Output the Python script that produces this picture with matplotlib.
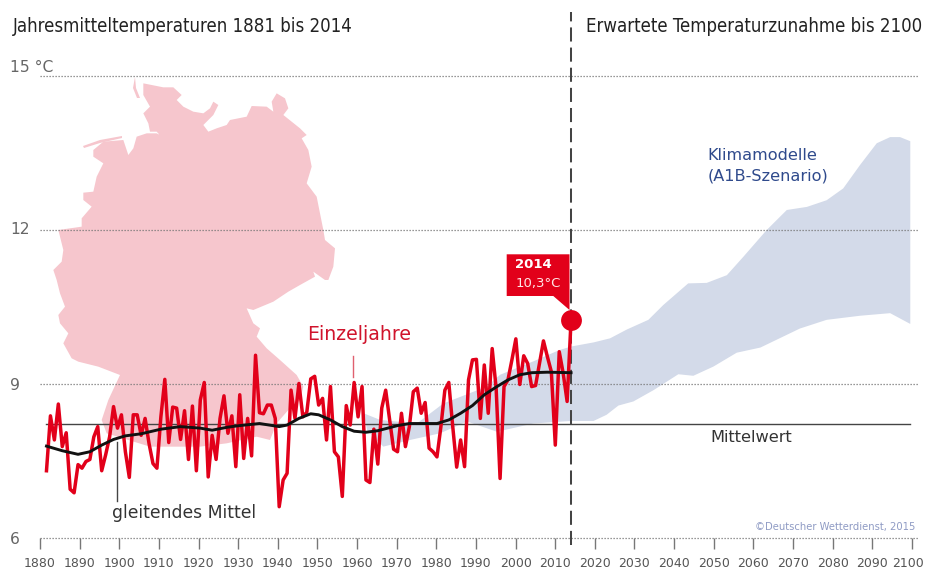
import numpy as np
import matplotlib
matplotlib.use("Agg")
import matplotlib.pyplot as plt
from matplotlib.patches import Polygon
from matplotlib.transforms import Affine2D, ScaledTranslation

W, H = 925, 579

years = list(range(1881, 2015))
annual = [7.31, 8.38, 7.91, 8.61, 7.78, 8.05, 6.95, 6.88, 7.43, 7.36,
          7.49, 7.53, 7.97, 8.17, 7.31, 7.62, 7.97, 8.56, 8.14, 8.40,
          7.68, 7.18, 8.40, 8.40, 8.00, 8.33, 7.84, 7.45, 7.36, 8.36,
          9.09, 7.86, 8.55, 8.53, 7.92, 8.48, 7.53, 8.57, 7.31, 8.69,
          9.03, 7.19, 8.00, 7.53, 8.33, 8.77, 8.04, 8.38, 7.39, 8.79,
          7.55, 8.33, 7.60, 9.56, 8.44, 8.42, 8.59, 8.59, 8.33, 6.61,
          7.13, 7.26, 8.88, 8.33, 9.01, 8.36, 8.45, 9.10, 9.15, 8.59,
          8.72, 7.91, 8.95, 7.68, 7.58, 6.81, 8.58, 8.20, 9.03, 8.36,
          8.95, 7.13, 7.08, 8.12, 7.44, 8.53, 8.88, 8.30, 7.73, 7.68,
          8.43, 7.78, 8.17, 8.85, 8.92, 8.43, 8.64, 7.75, 7.68, 7.58,
          8.17, 8.88, 9.03, 8.17, 7.38, 7.91, 7.39, 9.08, 9.47, 9.48,
          8.33, 9.37, 8.43, 9.69, 8.92, 7.16, 8.95, 9.08, 9.47, 9.88,
          8.99, 9.55, 9.40, 8.95, 8.97, 9.40, 9.84, 9.53, 9.24, 7.81,
          9.63, 9.21, 8.66, 10.25]

smooth_years = [1881, 1885, 1889, 1892, 1895, 1898, 1901, 1905, 1910, 1915,
                1920, 1923, 1927, 1930, 1935, 1940, 1942, 1945, 1948, 1950,
                1953, 1956, 1959, 1962, 1965, 1970, 1973, 1980, 1983, 1986,
                1989, 1992, 1995, 1998, 2001, 2004, 2008, 2014]
smooth = [7.79, 7.70, 7.63, 7.68, 7.81, 7.92, 7.99, 8.03, 8.12, 8.17,
          8.14, 8.10, 8.16, 8.19, 8.23, 8.17, 8.20, 8.33, 8.42, 8.40,
          8.30, 8.17, 8.08, 8.06, 8.09, 8.19, 8.23, 8.23, 8.30, 8.43,
          8.58, 8.79, 8.94, 9.08, 9.18, 9.22, 9.23, 9.22]

band_upper_years = [1961.4, 1965.6, 1974.9, 1981.6, 1992.6, 1996, 2004.4, 2011, 2014,
                    2019.7, 2023.9, 2028.1, 2033.6, 2037.4, 2043.7, 2048.4, 2053.5,
                    2057.7, 2063.6, 2068.7, 2073.8, 2078.8, 2083, 2087.3, 2091.5,
                    2094.9, 2097.4, 2100]
band_upper = [8.43, 8.30, 8.23, 8.62, 8.95, 9.18, 9.44, 9.66, 9.73,
              9.81, 9.89, 10.06, 10.25, 10.54, 10.96, 10.97, 11.12,
              11.48, 12.00, 12.39, 12.45, 12.58, 12.81, 13.27, 13.69,
              13.81, 13.81, 13.73]
band_lower_years = [1961.4, 1962.3, 1966.4, 1973.2, 1980.8, 1987.6, 1995.2, 2004.4, 2014,
                    2019.7, 2023, 2026, 2029.8, 2034.9, 2041.2, 2045, 2050.1,
                    2056, 2062, 2072, 2078.8, 2087.3, 2094.9, 2100]
band_lower = [8.43, 8.10, 7.78, 7.91, 8.04, 8.27, 8.07, 8.23, 8.28,
              8.28, 8.40, 8.58, 8.66, 8.88, 9.19, 9.16, 9.34,
              9.61, 9.71, 10.08, 10.25, 10.33, 10.38, 10.17]

mean_value = 8.22
mean_span = [1881, 2100]
marker_year, marker_value = 2014, 10.25
x_ticks = list(range(1880, 2101, 10))
y_ticks = [6, 9, 12, 15]
y_labels = ["6", "9", "12", "15 °C"]

# Germany silhouette, traced in image pixels
map_north = [(430, 250), (490, 262), (520, 262), (545, 285), (530, 300), (550, 320), (580, 335),
             (610, 340), (630, 325), (640, 305), (655, 315), (640, 345), (610, 375), (625, 395),
             (650, 385), (680, 375), (690, 360), (740, 350), (755, 318), (800, 320), (820, 335),
             (815, 305), (830, 280), (855, 295), (865, 325), (850, 345), (875, 365), (900, 385),
             (920, 405), (905, 415), (925, 450), (935, 500), (920, 550), (950, 590), (960, 640),
             (970, 690), (975, 720), (1005, 745), (1000, 800), (985, 840)]
map_south = [(855, 180), (820, 155), (825, 170), (780, 195), (745, 215), (700, 245), (640, 270),
             (620, 265), (640, 310), (660, 325), (650, 350), (680, 385), (720, 420), (770, 465),
             (790, 500), (780, 540), (745, 570), (710, 610), (690, 660), (650, 650), (560, 670),
             (480, 680), (370, 680), (330, 680), (200, 640), (185, 600), (205, 540), (240, 465),
             (175, 440), (135, 430), (115, 425), (95, 415), (70, 370), (85, 340), (60, 310),
             (55, 285), (75, 260), (60, 220), (50, 180), (40, 150), (65, 125), (70, 90), (55, 30)]
map_west = [(175, 690), (245, 680), (245, 655), (275, 620), (250, 600), (250, 578), (280, 575),
            (290, 530), (310, 490), (280, 470), (280, 450), (310, 425), (370, 420), (385, 465),
            (400, 445), (410, 410), (440, 400), (470, 400), (490, 410), (515, 445), (470, 395),
            (450, 395), (445, 370), (430, 340), (450, 320), (430, 285)]
map_px = ([(x / 3, y / 3) for x, y in map_north]
          + [(40 + x / 3, 220 + y / 3) for x, y in map_south]
          + [(x / 3, y / 3) for x, y in map_west])
frisian_px = [(83, 146), (100, 140), (122, 136), (122, 138), (100, 143), (84, 148)]
sylt_px = [(135, 77), (136, 88), (140, 98), (137, 98), (133, 88)]

RED = "#e2001a"
GREY = "#666666"
DARK = "#333333"

fig = plt.figure(figsize=(W / 100, H / 100), dpi=100, facecolor="white")
L, R, T, B = 40, 918, 76, 538
ax = fig.add_axes([L / W, 1 - B / H, (R - L) / W, (B - T) / H])
ax.set_facecolor("none")
for s in ax.spines.values():
    s.set_visible(False)

PX_PER_YEAR = 3.945
ax.set_xlim(2014 - (571 - L) / PX_PER_YEAR, 2014 + (R - 571) / PX_PER_YEAR)
ax.set_ylim(6, 15)

PX = Affine2D().scale(1 / W, -1 / H).translate(0, 1) + fig.transFigure


def label(x, y, s, **kw):
    kw.setdefault("va", "center")
    return ax.text(x, y, s, transform=PX, clip_on=False, **kw)


for pts in (map_px, frisian_px, sylt_px):
    ax.add_patch(Polygon(pts, closed=True, transform=PX, facecolor="#f6c6cd",
                         edgecolor="none", zorder=0.5, clip_on=False))

ax.fill(band_upper_years + band_lower_years[::-1], band_upper + band_lower[::-1],
        color="#d3dae9", lw=0, zorder=1)

# ticks: the printed scale runs slightly wider than the curves
tick_pos = [2014 + (t - 2014) * 3.964 / PX_PER_YEAR for t in x_ticks]
ax.set_xticks(tick_pos, [str(t) for t in x_ticks])
ax.tick_params(axis="x", length=8, width=1.0, color="#777777", labelcolor="#555555",
               labelsize=9.0, pad=5.5, direction="out")
last = ax.get_xticklabels()[-1]
last.set_transform(last.get_transform()
                   + ScaledTranslation(-3.5 / 100, 0, fig.dpi_scale_trans))
ax.set_yticks(y_ticks, y_labels)
ax.tick_params(axis="y", length=0, labelcolor=GREY, labelsize=11.2, pad=0)
for lab, tick in zip(ax.get_yticklabels(), y_ticks):
    lab.set_horizontalalignment("left")
    dy = 10 if tick == 15 else (2 if tick == 12 else 0)
    lab.set_transform(lab.get_transform()
                      + ScaledTranslation(-30 / 100, dy / 100, fig.dpi_scale_trans))
ax.grid(axis="y", color="#777777", lw=0.9, linestyle=(0, (1, 1.4)), zorder=2)
ax.set_axisbelow("line")
for gl in ax.get_ygridlines():
    gl.set_clip_on(False)

ax.plot(mean_span, [mean_value, mean_value], color="#444444", lw=1.0, zorder=2.5)

ax.add_patch(Polygon([(506.7, 254.3), (569.5, 254.3), (569.5, 310), (553.3, 296), (506.7, 296)],
                     closed=True, transform=PX, facecolor=RED, edgecolor="none",
                     zorder=3, clip_on=False))

ax.plot([2014, 2014], [5.86, 16.25], color="#444444", lw=1.45, dashes=(7, 3),
        clip_on=False, zorder=3.2)

ax.plot(years, annual, color=RED, lw=2.5, solid_joinstyle="round", zorder=4)
ax.plot(smooth_years, smooth, color="#111111", lw=2.1, zorder=5)
ax.plot([marker_year], [marker_value], "o", color=RED, ms=15, mec="none", zorder=6)

# annotation leaders
ax.plot([353.3, 353.3], [356, 377], transform=PX, color="#e0606f", lw=1.0, clip_on=False, zorder=3)
ax.plot([117.3, 117.3], [442, 501], transform=PX, color="#444444", lw=1.0, clip_on=False, zorder=3)

TITLE = dict(family="DejaVu Sans", stretch="condensed", size=13.35, color="#222222")
label(13, 26, "Jahresmitteltemperaturen 1881 bis 2014", **TITLE)
label(585.7, 26, "Erwartete Temperaturzunahme bis 2100", **TITLE)
label(307, 335, "Einzeljahre", color="#d0142c", size=13.6)
label(112, 513, "gleitendes Mittel", color=DARK, size=12.4)
label(710, 437, "Mittelwert", color=DARK, size=11.7)
label(707.7, 156, "Klimamodelle", color="#2f4a8c", size=11.6)
label(707.7, 176, "(A1B-Szenario)", color="#2f4a8c", size=11.6)
label(915, 527, "©Deutscher Wetterdienst, 2015", color="#8f9bc4", size=7.2, ha="right")
label(533, 265, "2014", color="white", size=9.5, weight="bold", ha="center", zorder=7)
label(538, 283, "10,3°C", color="#ffe6e6", size=9.5, ha="center", zorder=7)

fig.savefig("out.png", dpi=100, facecolor="white")
